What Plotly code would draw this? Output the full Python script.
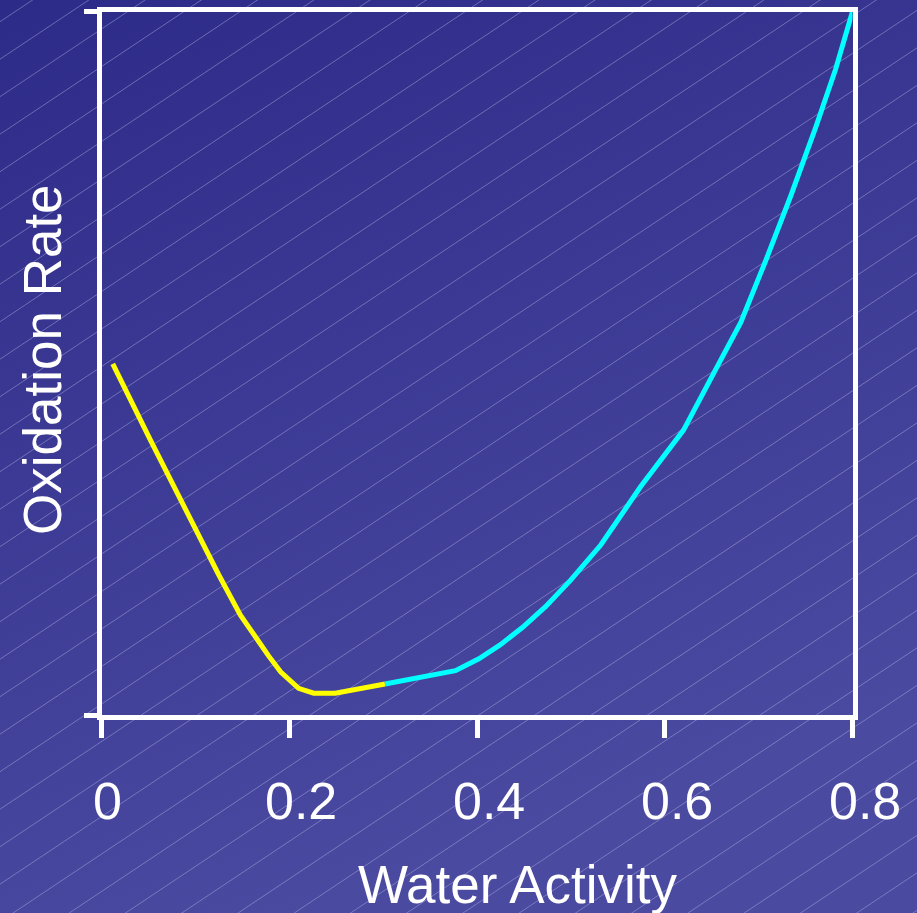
import base64
import plotly.graph_objects as go

# ---- data ----
yellow_x = [0.012, 0.052, 0.125, 0.148, 0.178, 0.191, 0.210, 0.226, 0.249, 0.302]
yellow_y = [0.499, 0.391, 0.199, 0.142, 0.084, 0.061, 0.038, 0.031, 0.031, 0.044]

cyan_x = [0.302, 0.377, 0.402, 0.425, 0.448, 0.473, 0.500, 0.532, 0.574, 0.620,
          0.657, 0.681, 0.707, 0.734, 0.761, 0.782, 0.800]
cyan_y = [0.044, 0.063, 0.080, 0.100, 0.124, 0.154, 0.192, 0.242, 0.324, 0.405,
          0.498, 0.558, 0.644, 0.737, 0.836, 0.918, 1.000]

x_ticks = [0, 0.2, 0.4, 0.6, 0.8]
x_tick_labels = ["0", "0.2", "0.4", "0.6", "0.8"]
x_title = "Water Activity"
y_title = "Oxidation Rate"

W, H = 917, 913
FONT = "Liberation Sans, Arial, sans-serif"

# ---- background: gradient with thin diagonal hatch lines (SVG image) ----
lines = []
slope = 2.0 / 3.0
spacing = 37.5
c = 21.7 - spacing * 2
while c < H + slope * W + spacing:
    lines.append(f'<line x1="0" y1="{c:.2f}" x2="{W}" y2="{c - slope * W:.2f}"/>')
    c += spacing
svg = (
    f'<svg xmlns="http://www.w3.org/2000/svg" width="{W}" height="{H}" '
    f'viewBox="0 0 {W} {H}" preserveAspectRatio="none">'
    '<defs><linearGradient id="g" x1="0" y1="0" x2="0.35" y2="1">'
    '<stop offset="0" stop-color="#2D2B88"/><stop offset="1" stop-color="#4B4AA1"/>'
    '</linearGradient></defs>'
    f'<rect width="{W}" height="{H}" fill="url(#g)"/>'
    '<g stroke="#B4B3E6" stroke-opacity="0.45" stroke-width="1">' + "".join(lines) + '</g>'
    '</svg>'
)
bg_src = "data:image/svg+xml;base64," + base64.b64encode(svg.encode()).decode()

fig = go.Figure()
fig.add_trace(go.Scatter(x=yellow_x, y=yellow_y, mode="lines",
                         line=dict(color="#FFFF00", width=5), showlegend=False))
fig.add_trace(go.Scatter(x=cyan_x, y=cyan_y, mode="lines",
                         line=dict(color="#00FFFF", width=5), showlegend=False))

left, right, top, bottom = 101.5, 852.5, 11.5, 715.0

# tick labels as annotations (the reference labels sit slightly right of their ticks)
label_shift = [6, 12, 12, 12, 12]
tick_annotations = [
    dict(text=t, x=v, xref="x", y=1 - 801 / H, yref="paper",
         xanchor="center", yanchor="middle", xshift=s, showarrow=False,
         font=dict(family=FONT, size=52, color="white"))
    for v, t, s in zip(x_ticks, x_tick_labels, label_shift)
]

fig.update_layout(
    template="none",
    width=W, height=H,
    autosize=False,
    margin=dict(l=0, r=0, t=0, b=0, pad=0),
    paper_bgcolor="#3A3893",
    plot_bgcolor="rgba(0,0,0,0)",
    font=dict(family=FONT, color="white", size=52),
    images=[dict(source=bg_src, xref="paper", yref="paper", x=0, y=1,
                 sizex=1, sizey=1, xanchor="left", yanchor="top",
                 sizing="stretch", layer="below")],
    xaxis=dict(
        domain=[left / W, right / W], automargin=False,
        range=[0, 0.8], tickvals=x_ticks, showticklabels=False,
        showgrid=False, zeroline=False,
        showline=True, linecolor="white", linewidth=5, mirror=True,
        ticks="outside", ticklen=18, tickwidth=5, tickcolor="white",
    ),
    yaxis=dict(
        domain=[1 - bottom / H, 1 - top / H], automargin=False,
        range=[0, 1], tickvals=[0, 1], showticklabels=False,
        showgrid=False, zeroline=False,
        showline=True, linecolor="white", linewidth=5, mirror=True,
        ticks="outside", ticklen=13, tickwidth=5, tickcolor="white",
    ),
    annotations=tick_annotations + [
        dict(text=x_title, xref="paper", yref="paper",
             x=518 / W, y=1 - 884 / H, xanchor="center", yanchor="middle",
             showarrow=False, font=dict(family=FONT, size=53, color="white")),
        dict(text=y_title, xref="paper", yref="paper", textangle=-90,
             x=43 / W, y=1 - 360 / H, xanchor="center", yanchor="middle",
             showarrow=False, font=dict(family=FONT, size=53, color="white")),
    ],
)

fig.write_html(
    "out.html",
    config={"displayModeBar": False},
    post_script="document.body.style.margin='0';document.body.style.overflow='hidden';",
)
